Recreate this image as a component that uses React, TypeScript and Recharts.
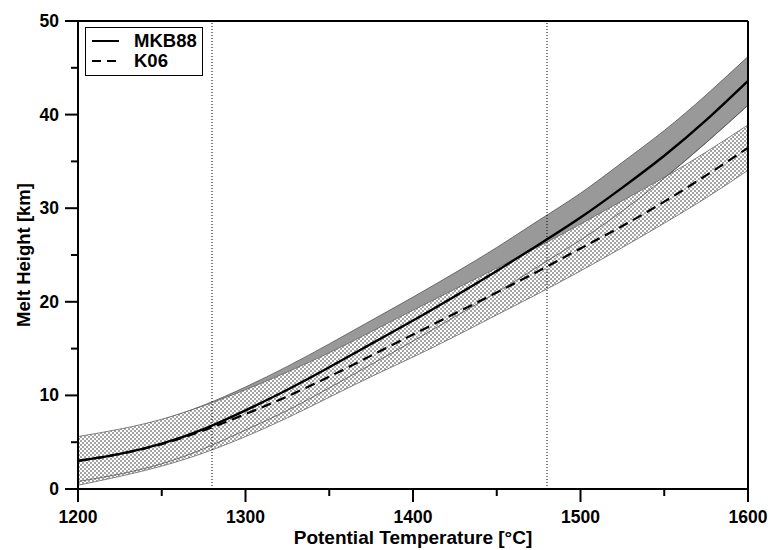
import { ComposedChart, Area, Line, XAxis, YAxis, ReferenceLine, Legend } from "recharts";

// potential temperature (°C) and melt heights (km)
const temps = [1200, 1225, 1250, 1275, 1300, 1325, 1350, 1375, 1400, 1425, 1450, 1475, 1500, 1525, 1550, 1575, 1600];

const mkbMid = [3.0, 3.75, 4.85, 6.4, 8.4, 10.6, 13.0, 15.5, 18.0, 20.6, 23.3, 26.1, 29.0, 32.2, 35.6, 39.4, 43.6];
const mkbHigh = [5.4, 6.25, 7.4, 8.95, 10.9, 13.1, 15.5, 18.0, 20.5, 23.1, 25.8, 28.7, 31.6, 34.9, 38.3, 42.1, 46.2];
const mkbLow = [0.8, 1.6, 2.7, 4.3, 6.3, 8.4, 10.8, 13.3, 15.8, 18.4, 21.0, 23.8, 26.6, 29.7, 33.2, 37.0, 41.0];

const k06Mid = [3.0, 3.75, 4.8, 6.25, 8.0, 9.9, 12.0, 14.25, 16.5, 18.75, 21.0, 23.3, 25.7, 28.1, 30.7, 33.5, 36.45];
const k06High = [5.6, 6.4, 7.45, 8.9, 10.6, 12.5, 14.55, 16.8, 19.1, 21.35, 23.6, 25.9, 28.3, 30.8, 33.3, 36.0, 38.9];
const k06Low = [0.4, 1.35, 2.45, 3.85, 5.6, 7.6, 9.8, 12.0, 14.1, 16.3, 18.6, 20.9, 23.3, 25.8, 28.4, 31.1, 34.05];

const xTicks = [1200, 1250, 1300, 1350, 1400, 1450, 1500, 1550, 1600];
const yTicks = [0, 5, 10, 15, 20, 25, 30, 35, 40, 45, 50];
const guideTemps = [1280, 1480];

const data = temps.map((t, i) => ({
  t,
  mkb: mkbMid[i],
  mkbBand: [mkbLow[i], mkbHigh[i]],
  mkbLow: mkbLow[i],
  k06: k06Mid[i],
  k06Band: [k06Low[i], k06High[i]],
}));

const font = "'Liberation Sans', Arial, Helvetica, sans-serif";
const MAJOR = 13;
const MINOR = 7;

function BottomTick({ x, y, payload }: any) {
  const major = payload.value % 100 === 0;
  return (
    <g>
      <line x1={x} y1={y} x2={x} y2={y + (major ? MAJOR : MINOR)} stroke="#000" strokeWidth={2} />
      {major && (
        <text x={x} y={y + 34} textAnchor="middle" fontSize={17.5} fontWeight="bold" fontFamily={font} fill="#000">
          {payload.value}
        </text>
      )}
    </g>
  );
}

function TopTick({ x, y, payload }: any) {
  const major = payload.value % 100 === 0;
  return <line x1={x} y1={y} x2={x} y2={y - (major ? MAJOR : MINOR)} stroke="#000" strokeWidth={2} />;
}

function LeftTick({ x, y, payload }: any) {
  const major = payload.value % 10 === 0;
  return (
    <g>
      <line x1={x} y1={y} x2={x - (major ? MAJOR : MINOR)} y2={y} stroke="#000" strokeWidth={2} />
      {major && (
        <text x={x - 19} y={y + 6} textAnchor="end" fontSize={17.5} fontWeight="bold" fontFamily={font} fill="#000">
          {payload.value}
        </text>
      )}
    </g>
  );
}

function RightTick({ x, y, payload }: any) {
  const major = payload.value % 10 === 0;
  return <line x1={x} y1={y} x2={x + (major ? MAJOR : MINOR)} y2={y} stroke="#000" strokeWidth={2} />;
}

function LegendBox() {
  const row = (dash: string | undefined, label: string) => (
    <div style={{ display: "flex", alignItems: "center", height: 20 }}>
      <svg width={34} height={20}>
        <line x1={6} y1={10} x2={33} y2={10} stroke="#000" strokeWidth={2} strokeDasharray={dash} />
      </svg>
      <span style={{ marginLeft: 14, fontSize: 18.5, fontWeight: "bold", fontFamily: font, lineHeight: "20px" }}>{label}</span>
    </div>
  );
  return (
    <div style={{ border: "1.5px solid #000", background: "#fff", width: 118, height: 49, boxSizing: "border-box", paddingTop: 3 }}>
      {row(undefined, "MKB88")}
      {row("9 6", "K06")}
    </div>
  );
}

export default function App() {
  return (
    <div style={{ position: "absolute", left: 0, top: 0, width: 772, height: 550, background: "#fff" }}>
      <ComposedChart width={772} height={550} data={data} margin={{ top: 9, right: 10, bottom: 5, left: 18 }}>
        <defs>
          <pattern id="checker" width="4" height="4" patternUnits="userSpaceOnUse">
            <rect width="4" height="4" fill="#fff" />
            <rect width="2" height="2" fill="#a4a4a4" />
            <rect x="2" y="2" width="2" height="2" fill="#a4a4a4" />
          </pattern>
        </defs>
        <XAxis
          dataKey="t"
          type="number"
          domain={[1200, 1600]}
          ticks={xTicks}
          interval={0}
          tick={<BottomTick />}
          tickLine={false}
          tickSize={0}
          tickMargin={0}
          height={56}
          axisLine={{ stroke: "#000", strokeWidth: 2 }}
          label={{ value: "Potential Temperature [°C]", position: "insideBottom", offset: 1, fontSize: 19, fontWeight: "bold", fontFamily: font, fill: "#000" }}
        />
        <XAxis
          xAxisId="top"
          orientation="top"
          type="number"
          domain={[1200, 1600]}
          ticks={xTicks}
          interval={0}
          tick={<TopTick />}
          tickLine={false}
          tickSize={0}
          tickMargin={0}
          height={12}
          axisLine={{ stroke: "#000", strokeWidth: 2 }}
        />
        <YAxis
          type="number"
          domain={[0, 50]}
          ticks={yTicks}
          interval={0}
          tick={<LeftTick />}
          tickLine={false}
          tickSize={0}
          tickMargin={0}
          width={60}
          axisLine={{ stroke: "#000", strokeWidth: 2 }}
          label={{ value: "Melt Height [km]", angle: -90, position: "insideLeft", offset: 5, fontSize: 18.5, fontWeight: "bold", fontFamily: font, fill: "#000", style: { textAnchor: "middle" } }}
        />
        <YAxis
          yAxisId="right"
          orientation="right"
          type="number"
          domain={[0, 50]}
          ticks={yTicks}
          interval={0}
          tick={<RightTick />}
          tickLine={false}
          tickSize={0}
          tickMargin={0}
          width={14}
          axisLine={{ stroke: "#000", strokeWidth: 2 }}
        />
        {guideTemps.map((g) => (
          <ReferenceLine key={g} x={g} stroke="#000" strokeWidth={1} strokeDasharray="1 2" />
        ))}
        <Area dataKey="mkbBand" type="natural" fill="#999" fillOpacity={1} stroke="#555" strokeWidth={0.8} isAnimationActive={false} dot={false} activeDot={false} />
        <Area dataKey="k06Band" type="natural" fill="url(#checker)" fillOpacity={1} stroke="#666" strokeWidth={0.8} isAnimationActive={false} dot={false} activeDot={false} />
        <Line dataKey="mkbLow" type="natural" stroke="#555" strokeWidth={0.8} dot={false} activeDot={false} isAnimationActive={false} />
        <Line dataKey="mkb" type="natural" stroke="#000" strokeWidth={2.4} dot={false} activeDot={false} isAnimationActive={false} />
        <Line dataKey="k06" type="natural" stroke="#000" strokeWidth={2.2} strokeDasharray="10 6" dot={false} activeDot={false} isAnimationActive={false} />
        <Legend
          layout="vertical"
          align="center"
          verticalAlign="middle"
          content={<LegendBox />}
          wrapperStyle={{ position: "absolute", left: 85, top: 27, width: 118, height: 49 }}
        />
      </ComposedChart>
    </div>
  );
}
